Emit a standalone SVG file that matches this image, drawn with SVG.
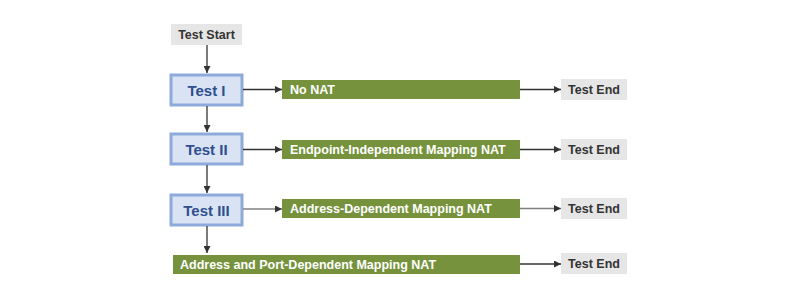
<svg xmlns="http://www.w3.org/2000/svg" width="800" height="300" viewBox="0 0 800 300">
<style>
.gray{fill:#e6e6e6}
.gt{font-family:"Liberation Sans",Arial,sans-serif;font-weight:bold;font-size:12.5px;fill:#333}
.test{fill:#dae3f3;stroke:#8eaadb;stroke-width:3}
.tt{font-family:"Liberation Sans",Arial,sans-serif;font-weight:bold;font-size:15px;fill:#2f4f8f;text-anchor:middle}
.green{fill:#76923c}
.wt{font-family:"Liberation Sans",Arial,sans-serif;font-weight:bold;font-size:12.5px;fill:#fff}
.ln{stroke:#333;stroke-width:1.3;fill:none}
.lg{stroke:#808080;stroke-width:1.3;fill:none}
</style>
<defs>
<marker id="ah" viewBox="0 0 10 10" refX="10" refY="5" markerWidth="7" markerHeight="7" markerUnits="userSpaceOnUse" orient="auto"><path d="M0,0 L10,5 L0,10 z" fill="#333"/></marker>
</defs>
<rect width="800" height="300" fill="#fff"/>
<g id="start"><rect class="gray" x="171" y="24" width="71" height="21"/><text class="gt" x="206.5" y="39" text-anchor="middle">Test Start</text></g>
<g id="test1"><rect class="test" x="171" y="75" width="71" height="30"/><text class="tt" x="206.5" y="95.5">Test I</text></g>
<g id="test2"><rect class="test" x="171" y="134" width="71" height="30"/><text class="tt" x="206.5" y="154.5">Test II</text></g>
<g id="test3"><rect class="test" x="171" y="195" width="71" height="30"/><text class="tt" x="206.5" y="215.5">Test III</text></g>
<g id="nonat"><rect class="green" x="282" y="80" width="238" height="19"/><text class="wt" x="290" y="94">No NAT</text></g>
<g id="eim"><rect class="green" x="282" y="140" width="238" height="19"/><text class="wt" x="290" y="154">Endpoint-Independent Mapping NAT</text></g>
<g id="adm"><rect class="green" x="282" y="199" width="238" height="19"/><text class="wt" x="290" y="213">Address-Dependent Mapping NAT</text></g>
<g id="apdm"><rect class="green" x="173" y="255" width="347" height="19"/><text class="wt" x="180" y="269">Address and Port-Dependent Mapping NAT</text></g>
<g id="end1"><rect class="gray" x="561" y="79" width="66" height="21"/><text class="gt" x="594" y="94" text-anchor="middle">Test End</text></g>
<g id="end2"><rect class="gray" x="561" y="139" width="66" height="21"/><text class="gt" x="594" y="154" text-anchor="middle">Test End</text></g>
<g id="end3"><rect class="gray" x="561" y="198" width="66" height="21"/><text class="gt" x="594" y="213" text-anchor="middle">Test End</text></g>
<g id="end4"><rect class="gray" x="561" y="253" width="66" height="21"/><text class="gt" x="594" y="268" text-anchor="middle">Test End</text></g>
<g id="connectors">
<line class="ln" x1="207" y1="45" x2="207" y2="73" marker-end="url(#ah)"/>
<line class="ln" x1="207" y1="106" x2="207" y2="132" marker-end="url(#ah)"/>
<line class="ln" x1="207" y1="165" x2="207" y2="193" marker-end="url(#ah)"/>
<line class="ln" x1="207" y1="226" x2="207" y2="253" marker-end="url(#ah)"/>
<line class="ln" x1="243" y1="89.5" x2="282" y2="89.5" marker-end="url(#ah)"/>
<line class="ln" x1="243" y1="149.5" x2="282" y2="149.5" marker-end="url(#ah)"/>
<line class="lg" x1="243" y1="209" x2="282" y2="209" marker-end="url(#ah)"/>
<line class="ln" x1="520" y1="89.5" x2="561" y2="89.5" marker-end="url(#ah)"/>
<line class="ln" x1="520" y1="149.5" x2="561" y2="149.5" marker-end="url(#ah)"/>
<line class="lg" x1="520" y1="208.5" x2="561" y2="208.5" marker-end="url(#ah)"/>
<line class="ln" x1="520" y1="264" x2="561" y2="264" marker-end="url(#ah)"/>
</g>
</svg>
